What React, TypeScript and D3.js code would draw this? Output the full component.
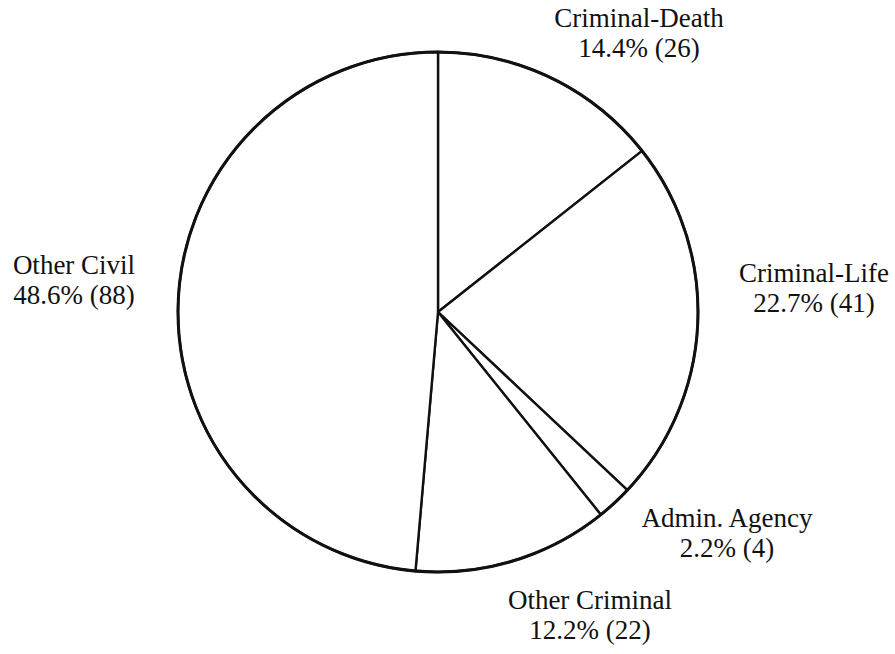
import { useEffect, useRef } from 'react';
import * as d3 from 'd3';

const categories = ['Criminal-Death', 'Criminal-Life', 'Admin. Agency', 'Other Criminal', 'Other Civil'];
const counts = [26, 41, 4, 22, 88];
const percentLabels = ['14.4%', '22.7%', '2.2%', '12.2%', '48.6%'];

// where each label block sits (center x, first baseline y)
const labelLayout: Record<string, [number, number]> = {
  'Criminal-Death': [639, 27],
  'Criminal-Life': [814, 282],
  'Admin. Agency': [727, 527],
  'Other Criminal': [590, 609],
  'Other Civil': [74, 274],
};

const App = () => {
  const ref = useRef<SVGSVGElement>(null);

  const drawChart = () => {
    const width = 895;
    const height = 654;
    const cx = 438;
    const cy = 312;
    const radius = 260;

    const svg = d3.select(ref.current);
    svg.selectAll('*').remove();
    svg.attr('width', width).attr('height', height);

    const data = categories.map((c, i) => ({ name: c, value: counts[i], pct: percentLabels[i] }));

    const pie = d3.pie<any>().value(d => d.value).sort(null);
    const arcs = pie(data);
    const arc = d3.arc<any>().innerRadius(0).outerRadius(radius);

    const g = svg.append('g').attr('transform', `translate(${cx},${cy})`);

    g.selectAll('path.slice')
      .data(arcs)
      .enter()
      .append('path')
      .attr('class', 'slice')
      .attr('d', arc)
      .attr('fill', 'white')
      .attr('stroke', '#111')
      .attr('stroke-width', 2.4)
      .attr('stroke-linejoin', 'round');

    g.append('circle')
      .attr('r', radius)
      .attr('fill', 'none')
      .attr('stroke', '#111')
      .attr('stroke-width', 3);

    const labels = svg.append('g')
      .attr('font-family', '"Liberation Serif", "DejaVu Serif", serif')
      .attr('font-size', 27)
      .attr('fill', '#111')
      .attr('text-anchor', 'middle');

    data.forEach(d => {
      const [lx, ly] = labelLayout[d.name];
      labels.append('text').attr('x', lx).attr('y', ly).text(d.name);
      labels.append('text').attr('x', lx).attr('y', ly + 30).text(`${d.pct} (${d.value})`);
    });
  };

  useEffect(() => {
    document.body.style.margin = '0';
    drawChart();
  }, []);

  return <svg ref={ref} style={{ display: 'block', background: 'white' }}></svg>;
};

export default App;
